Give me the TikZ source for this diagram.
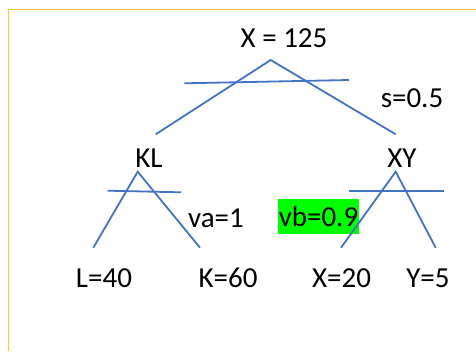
\documentclass[tikz,border=0pt]{standalone}
\usepackage{fontspec}
\setmainfont{Carlito}
\usetikzlibrary{positioning}
\definecolor{TreeBlue}{RGB}{68,114,196}
\definecolor{FrameGold}{RGB}{255,200,50}
\definecolor{MarkGreen}{RGB}{0,255,0}
\tikzset{
	lbl/.style={inner sep=1pt,font=\fontsize{29}{33}\selectfont},
	branch/.style={draw=TreeBlue,line width=1.8pt},
	cut/.style={draw=TreeBlue,line width=1.8pt},
}

\begin{document}
\begin{tikzpicture}[x=1pt,y=-1pt]
	\useasboundingbox (0,0) rectangle (476,351);
	\draw[FrameGold,line width=1.4pt] (8.5,351) -- (8.5,9.5) -- (476,9.5);
	% labels
	\node[lbl] (root) at (284,38) {X = 125};
	\node[lbl] (kl) at (149,158) {KL};
	\node[lbl] (xy) at (402,158) {XY};
	\node[lbl] (s) at (412,98) {s=0.5};
	\node[lbl] (va) at (216,218) {va=1};
	\node[lbl,fill=MarkGreen,inner sep=0pt,minimum width=81pt,minimum height=35.5pt] (vb) at (318.5,216.7) {vb=0.9};
	\node[lbl] (l) at (104,278) {L=40};
	\node[lbl] (k) at (228,278) {K=60};
	\node[lbl] (x) at (341.5,278) {X=20};
	\node[lbl] (y) at (428,278) {Y=5};
	% top split
	\coordinate (top) at (270.7,60);
	\coordinate (topL) at (155.7,134.3);
	\coordinate (topR) at (395.7,134.3);
	\coordinate (cutA) at (184.3,83.3);
	\coordinate (cutB) at (349,80);
	\draw[branch] (topL) -- (top) -- (topR);
	\draw[cut] (cutA) -- (cutB);
	% left split
	\coordinate (klTop) at (137.7,171.7);
	\coordinate (klL) at (93.3,247.7);
	\coordinate (klR) at (200,247.7);
	\coordinate (klA) at (107.7,190.7);
	\coordinate (klB) at (181,192.3);
	\draw[branch] (klL) -- (klTop) -- (klR);
	\draw[cut] (klA) -- (klB);
	% right split
	\coordinate (xyTop) at (395.7,171.7);
	\coordinate (xyL) at (341,247.7);
	\coordinate (xyR) at (435.7,247.7);
	\coordinate (xyA) at (349,190.7);
	\coordinate (xyB) at (444,190.7);
	\draw[branch] (xyL) -- (xyTop) -- (xyR);
	\draw[cut,line width=2.2pt] (xyA) -- (xyB);
\end{tikzpicture}
\end{document}
